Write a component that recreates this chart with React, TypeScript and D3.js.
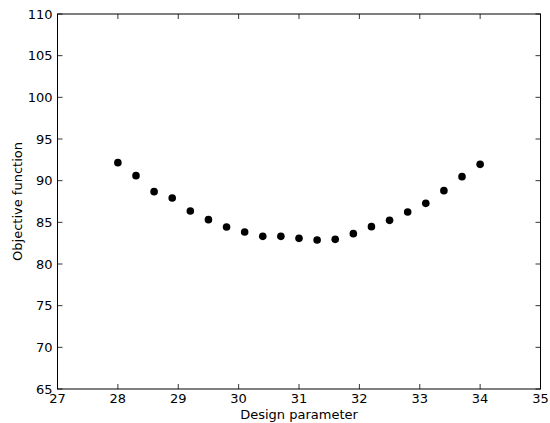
import React from "react";
import * as d3 from "d3";

const xValues = [28.0, 28.3, 28.6, 28.9, 29.2, 29.5, 29.8, 30.1, 30.4, 30.7, 31.0, 31.3, 31.6, 31.9, 32.2, 32.5, 32.8, 33.1, 33.4, 33.7, 34.0];
const yValues = [92.16, 90.6, 88.68, 87.92, 86.36, 85.32, 84.44, 83.84, 83.32, 83.32, 83.08, 82.88, 82.96, 83.64, 84.48, 85.24, 86.24, 87.28, 88.8, 90.48, 91.96];
const xTicks = [27, 28, 29, 30, 31, 32, 33, 34, 35];
const yTicks = [65, 70, 75, 80, 85, 90, 95, 100, 105, 110];
const xLabel = "Design parameter";
const yLabel = "Objective function";

const W = 550;
const H = 423;
const left = 57.5;
const right = 540.5;
const top = 14;
const bottom = 389;
const font = "DejaVu Sans, sans-serif";

export default function App() {
  const x = d3.scaleLinear().domain([27, 35]).range([left, right]);
  const y = d3.scaleLinear().domain([65, 110]).range([bottom, top]);
  const tl = 5;
  return (
    <svg width={W} height={H} style={{ position: "absolute", left: 0, top: 0, background: "#fff" }}>
      <rect x={0} y={0} width={W} height={H} fill="#fff" />
      {xValues.map((xv, i) => (
        <circle key={i} cx={x(xv)} cy={y(yValues[i])} r={3.8} fill="#000" />
      ))}
      <rect x={left} y={top} width={right - left} height={bottom - top} fill="none" stroke="#000" strokeWidth={1} />
      {xTicks.map((t) => (
        <g key={"x" + t}>
          <line x1={x(t)} x2={x(t)} y1={bottom} y2={bottom - tl} stroke="#000" strokeWidth={0.8} />
          <line x1={x(t)} x2={x(t)} y1={top} y2={top + tl} stroke="#000" strokeWidth={0.8} />
          <text x={x(t)} y={403} fontFamily={font} fontSize={13} textAnchor="middle" fill="#000">
            {t}
          </text>
        </g>
      ))}
      {yTicks.map((t) => (
        <g key={"y" + t}>
          <line x1={left} x2={left + tl} y1={y(t)} y2={y(t)} stroke="#000" strokeWidth={0.8} />
          <line x1={right} x2={right - tl} y1={y(t)} y2={y(t)} stroke="#000" strokeWidth={0.8} />
          <text x={52.5} y={y(t)} dy="0.36em" fontFamily={font} fontSize={13} textAnchor="end" fill="#000">
            {t}
          </text>
        </g>
      ))}
      <text x={(left + right) / 2} y={419} fontFamily={font} fontSize={13} textAnchor="middle" fill="#000">
        {xLabel}
      </text>
      <text
        transform={`translate(22,${(top + bottom) / 2}) rotate(-90)`}
        fontFamily={font}
        fontSize={13}
        textAnchor="middle"
        fill="#000"
      >
        {yLabel}
      </text>
    </svg>
  );
}
